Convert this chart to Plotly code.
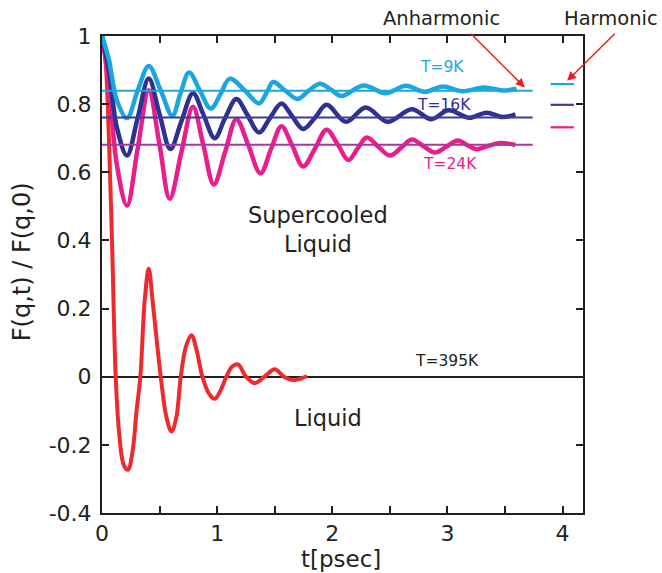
import plotly.graph_objects as go

# ---------------- data ----------------
t_cyan = [0, 0.06, 0.13, 0.217, 0.31, 0.406, 0.51, 0.611, 0.68, 0.756, 0.85, 0.944,
          1.03, 1.109, 1.24, 1.364, 1.43, 1.486, 1.59, 1.697, 1.79, 1.891, 1.99, 2.08,
          2.27, 2.46, 2.64, 2.80, 2.96, 3.13, 3.32, 3.48, 3.60]
v_cyan = [1.0, 0.93, 0.81, 0.759, 0.84, 0.912, 0.84, 0.766, 0.83, 0.893, 0.84, 0.787,
          0.83, 0.875, 0.84, 0.802, 0.834, 0.865, 0.84, 0.815, 0.838, 0.860, 0.842, 0.824,
          0.855, 0.832, 0.854, 0.836, 0.852, 0.838, 0.849, 0.840, 0.845]

t_navy = [0, 0.06, 0.13, 0.217, 0.31, 0.406, 0.50, 0.594, 0.69, 0.79, 0.88, 0.979,
          1.07, 1.167, 1.26, 1.364, 1.46, 1.558, 1.65, 1.747, 1.85, 1.95, 2.12,
          2.29, 2.48, 2.69, 2.86, 3.01, 3.19, 3.34, 3.48, 3.59]
v_navy = [1.0, 0.90, 0.73, 0.649, 0.76, 0.875, 0.77, 0.668, 0.75, 0.832, 0.77, 0.700,
          0.76, 0.815, 0.77, 0.717, 0.76, 0.802, 0.765, 0.727, 0.76, 0.798, 0.748,
          0.790, 0.748, 0.785, 0.756, 0.782, 0.760, 0.775, 0.762, 0.770]

t_mag = [0, 0.06, 0.13, 0.217, 0.31, 0.406, 0.50, 0.588, 0.69, 0.79, 0.88, 0.971,
         1.07, 1.167, 1.27, 1.376, 1.47, 1.558, 1.65, 1.747, 1.85, 1.95, 2.05, 2.14,
         2.22, 2.30, 2.40, 2.50, 2.60, 2.69, 2.79, 2.89, 2.99, 3.09, 3.17, 3.25,
         3.35, 3.46, 3.59]
v_mag = [1.0, 0.86, 0.62, 0.502, 0.67, 0.841, 0.68, 0.522, 0.66, 0.792, 0.68, 0.564,
         0.66, 0.756, 0.68, 0.597, 0.67, 0.735, 0.68, 0.617, 0.67, 0.725, 0.68, 0.636,
         0.67, 0.702, 0.675, 0.649, 0.673, 0.696, 0.677, 0.658, 0.675, 0.693, 0.68, 0.668,
         0.677, 0.686, 0.680]

t_red = [0, 0.03, 0.06, 0.09, 0.119, 0.15, 0.19, 0.226, 0.265, 0.30, 0.333, 0.37, 0.406,
         0.44, 0.51, 0.56, 0.603, 0.645, 0.684, 0.73, 0.777, 0.82, 0.872, 0.93, 0.979,
         1.03, 1.08, 1.13, 1.182, 1.25, 1.327, 1.41, 1.50, 1.58, 1.66, 1.72, 1.78]
v_red = [1.0, 0.93, 0.70, 0.36, 0.0, -0.17, -0.26, -0.273, -0.22, -0.10, 0.0, 0.22, 0.317,
         0.22, 0.0, -0.12, -0.161, -0.12, 0.0, 0.09, 0.122, 0.08, 0.0, -0.05, -0.065,
         -0.04, 0.0, 0.03, 0.036, 0.0, -0.019, 0.0, 0.022, 0.0, -0.01, -0.006, 0.002]

# anharmonic plateau levels (thin lines) and harmonic levels (short segments)
anh_t = [0, 3.74]
anh_levels = [0.839, 0.761, 0.681]
harm_t = [3.896, 4.098]
harm_levels = [0.859, 0.798, 0.732]

# ---------------- styles ----------------
CYAN = "#1aa7df"
NAVY = "#2e3192"
MAG = "#e91e8c"
RED = "#ee2a2f"
INK = "#231f20"
FONT = "DejaVu Sans"
TICK_FS = 22

fig = go.Figure()

for t, v, c, w in [(t_red, v_red, RED, 4),
                   (t_mag, v_mag, MAG, 4.5),
                   (t_navy, v_navy, NAVY, 4.5),
                   (t_cyan, v_cyan, CYAN, 4.5)]:
    fig.add_trace(go.Scatter(x=t, y=v, mode="lines",
                             line=dict(color=c, width=w, shape="spline", smoothing=1.0),
                             showlegend=False, hoverinfo="skip"))

for lev, c in zip(anh_levels, [CYAN, "#3a3c98", "#a9389b"]):
    fig.add_trace(go.Scatter(x=anh_t, y=[lev, lev], mode="lines",
                             line=dict(color=c, width=2), showlegend=False, hoverinfo="skip"))

for lev, c in zip(harm_levels, [CYAN, "#3a3c98", MAG]):
    fig.add_trace(go.Scatter(x=harm_t, y=[lev, lev], mode="lines",
                             line=dict(color=c, width=2.2), showlegend=False, hoverinfo="skip"))

xt = [0, 0.5, 1, 1.5, 2, 2.5, 3, 3.5, 4]
xl = ["0", "", "1", "", "2", "", "3", "", "4"]
yt = [-0.4, -0.2, 0, 0.2, 0.4, 0.6, 0.8, 1.0]
yl = ["-0.4", "-0.2", "0", "0.2", "0.4", "0.6", "0.8", "1"]

fig.update_layout(
    width=662, height=573,
    margin=dict(l=102, r=79, t=36, b=60),
    paper_bgcolor="white", plot_bgcolor="white",
    font=dict(family=FONT, color=INK, size=TICK_FS),
    xaxis=dict(range=[0, 4.177], tickvals=xt, ticktext=xl, ticks="inside", ticklen=7,
               tickwidth=2, tickcolor=INK, showline=True, linecolor=INK, linewidth=2,
               mirror="ticks", showgrid=False, zeroline=False,
               tickfont=dict(size=TICK_FS, color=INK), ticklabelstandoff=0),
    yaxis=dict(range=[-0.4, 1.0], tickvals=yt, ticktext=yl, ticks="inside", ticklen=7,
               tickwidth=2, tickcolor=INK, showline=True, linecolor=INK, linewidth=2,
               mirror="ticks", showgrid=False, zeroline=True, zerolinecolor=INK,
               zerolinewidth=2, tickfont=dict(size=TICK_FS, color=INK),
               ticklabelstandoff=4),
)

# axis titles and labels placed in axis-domain coordinates (0..1 across the plot box)
dom = [
    (0.497, -0.097, "t[psec]", 23, INK, 0),
    (-0.166, 0.526, "F(q,t) / F(q,0)", 24, INK, -90),
    (0.705, 1.037, "Anharmonic", 19.5, INK, 0),
    (1.058, 1.037, "Harmonic", 19.5, INK, 0),
]
for x, y, s, fs, c, ang in dom:
    fig.add_annotation(x=x, y=y, xref="x domain", yref="y domain", text=s, showarrow=False,
                       textangle=ang, font=dict(size=fs, color=c),
                       xanchor="center", yanchor="middle")

labels = [
    (1.874, 0.432, "Supercooled<br>Liquid", 22.5, INK),
    (1.961, -0.121, "Liquid", 22.5, INK),
    (2.999, 0.046, "T=395K", 15.5, INK),
    (2.949, 0.908, "T=9K", 15.5, CYAN),
    (2.969, 0.798, "T=16K", 15.5, NAVY),
    (3.025, 0.624, "T=24K", 15.5, MAG),
]
for x, y, s, fs, c in labels:
    fig.add_annotation(x=x, y=y, xref="x", yref="y", text=s, showarrow=False,
                       font=dict(size=fs, color=c), xanchor="center", yanchor="middle")

arrows = [((0.764, 1.008), (0.879, 0.892)), ((1.069, 1.008), (0.967, 0.906))]
for (tx, ty), (hx, hy) in arrows:
    fig.add_annotation(x=hx, y=hy, ax=tx, ay=ty, xref="x domain", yref="y domain",
                       axref="x domain", ayref="y domain",
                       text="", showarrow=True, arrowhead=2, arrowsize=1.2, arrowwidth=1.5,
                       arrowcolor="#ed1c24")

fig.write_html("out.html")
